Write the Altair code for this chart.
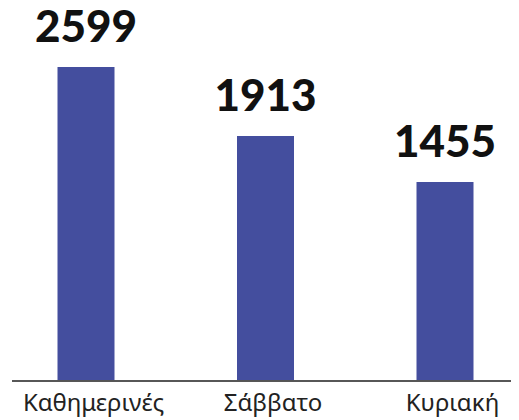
import altair as alt
import pandas as pd

categories = ["Καθημερινές", "Σάββατο", "Κυριακή"]
values = [2599, 1913, 1455]
Y_MIN = -525
Y_MAX = 3165

df = pd.DataFrame({"cat": categories, "val": values})

W, H = 499, 371

x = alt.X("cat:N", sort=categories, title=None,
          scale=alt.Scale(type="point", range=[74, 433], padding=0),
          axis=alt.Axis(ticks=False, domain=False,
                        labelAngle=0, labelFontSize=24, labelFont="Noto Sans",
                        labelColor="#222222", labelPadding=10, labelOffset=7))
y = alt.Y("val:Q", axis=None,
          scale=alt.Scale(domain=[Y_MIN, Y_MAX], nice=False, zero=False))

base = alt.Chart(df)
bars = base.mark_bar(size=57, color="#444e9e").encode(x=x, y=y, y2=alt.datum(Y_MIN))
labels = base.mark_text(font="Lato", fontSize=44, fontWeight=900, color="#111111",
                        baseline="alphabetic", dy=-25).encode(x=x, y=y, text="val:Q")
baseline = alt.Chart(df).mark_rule(color="#555555", strokeWidth=1.5).encode(
    x=alt.value(0), x2=alt.value(W), y=alt.value(H))

chart = (bars + labels + baseline).properties(
    width=W, height=H,
    padding={"left": 4, "top": 2, "right": 0, "bottom": 40},
    autosize=alt.AutoSizeParams(type="none"),
).configure_view(stroke=None)

chart.save("out.html", embed_options={"renderer": "svg", "actions": False})
